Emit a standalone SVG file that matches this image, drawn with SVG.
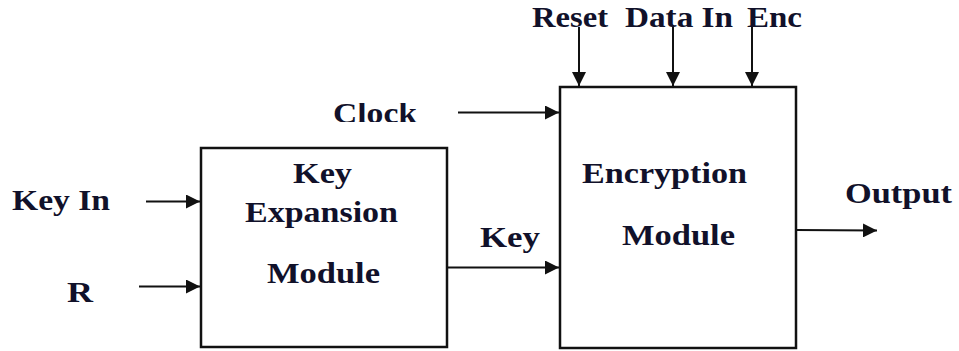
<svg xmlns="http://www.w3.org/2000/svg" width="959" height="351" viewBox="0 0 959 351">
<defs>
<style>
.box{fill:#fff;stroke:#111;stroke-width:2.5}
.w{stroke:#111;stroke-width:2;fill:none}
.t{font-family:"Liberation Serif","Times New Roman",serif;font-weight:bold;font-size:30px;fill:#11112a}
</style>
<marker id="ahv" viewBox="0 0 14 14" refX="14" refY="7" markerWidth="14" markerHeight="14" markerUnits="userSpaceOnUse" orient="auto">
<path d="M0,0 L14,7 L0,14 Z" fill="#111"/>
</marker>
<clipPath id="clk"><rect x="320" y="103" width="110" height="19"/></clipPath>
</defs>
<rect width="959" height="351" fill="#fff"/>
<g id="key-expansion">
<rect class="box" x="201" y="148" width="246" height="199"/>
<text class="t" x="293" y="183" textLength="59" lengthAdjust="spacingAndGlyphs">Key</text>
<text class="t" x="245" y="222" textLength="153" lengthAdjust="spacingAndGlyphs">Expansion</text>
<text class="t" x="267" y="283" textLength="113" lengthAdjust="spacingAndGlyphs">Module</text>
</g>
<g id="encryption">
<rect class="box" x="560" y="87" width="236" height="261"/>
<text class="t" x="582" y="183" textLength="165" lengthAdjust="spacingAndGlyphs">Encryption</text>
<text class="t" x="622" y="245" textLength="113" lengthAdjust="spacingAndGlyphs">Module</text>
</g>
<g id="labels">
<text class="t" x="532" y="27" textLength="76" lengthAdjust="spacingAndGlyphs">Reset</text>
<text class="t" x="625" y="27" textLength="108" lengthAdjust="spacingAndGlyphs">Data In</text>
<text class="t" x="747" y="27" textLength="55" lengthAdjust="spacingAndGlyphs">Enc</text>
<text class="t" x="333" y="123" textLength="84" lengthAdjust="spacingAndGlyphs" clip-path="url(#clk)">Clock</text>
<text class="t" x="12" y="210" textLength="98" lengthAdjust="spacingAndGlyphs">Key In</text>
<text class="t" x="67" y="302" textLength="26" lengthAdjust="spacingAndGlyphs">R</text>
<text class="t" x="480" y="247" textLength="60" lengthAdjust="spacingAndGlyphs">Key</text>
<text class="t" x="845" y="203" textLength="107" lengthAdjust="spacingAndGlyphs">Output</text>
</g>
<g id="connectors">
<line class="w" x1="579" y1="27" x2="579" y2="86" marker-end="url(#ahv)"/>
<line class="w" x1="673" y1="27" x2="673" y2="86" marker-end="url(#ahv)"/>
<line class="w" x1="752" y1="27" x2="752" y2="86" marker-end="url(#ahv)"/>
<line class="w" x1="458" y1="112.5" x2="559" y2="112.5" marker-end="url(#ahv)"/>
<line class="w" x1="146" y1="201.5" x2="200" y2="201.5" marker-end="url(#ahv)"/>
<line class="w" x1="139" y1="286.5" x2="200" y2="286.5" marker-end="url(#ahv)" stroke="#555"/>
<line class="w" x1="447" y1="267.5" x2="559" y2="267.5" marker-end="url(#ahv)"/>
<line class="w" x1="796" y1="230" x2="877" y2="230.5" marker-end="url(#ahv)"/>
</g>
</svg>
